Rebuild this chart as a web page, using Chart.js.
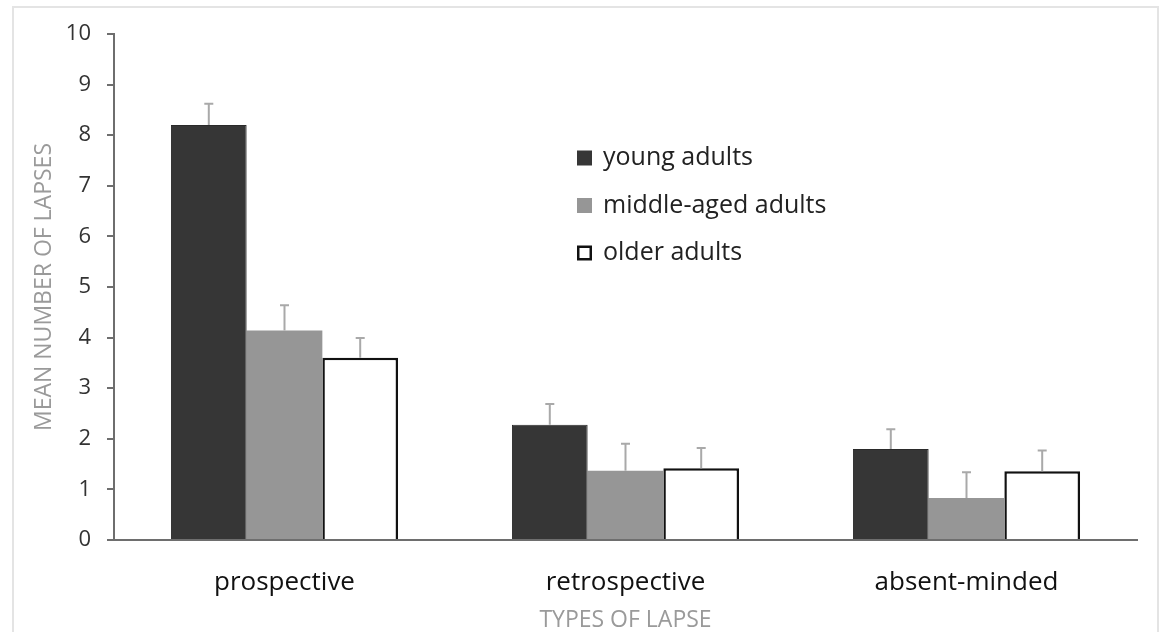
<!DOCTYPE html>
<html>
<head>
<meta charset="utf-8">
<script src="https://cdn.jsdelivr.net/npm/chart.js@4/dist/chart.umd.min.js"></script>
<style>
  html, body { margin: 0; padding: 0; background: #fff; }
  #wrap { position: relative; width: 1165px; height: 632px; }
  #frame { position: absolute; left: 12px; top: 6px; width: 1147px; height: 640px;
           border: 2px solid #e4e4e4; box-sizing: border-box; pointer-events: none; }
</style>
</head>
<body>
<div id="wrap">
  <canvas id="myChart" width="1165" height="632"></canvas>
  <div id="frame"></div>
</div>
<script>
// 카테고리와 값
const categories = ['prospective', 'retrospective', 'absent-minded'];
const seriesNames = ['young adults', 'middle-aged adults', 'older adults'];
const youngVals = [8.2, 2.28, 1.80];
const middleVals = [4.14, 1.37, 0.83];
const olderVals = [3.6, 1.42, 1.36];
// 오차막대 (위쪽만)
const youngErr = [0.42, 0.41, 0.39];
const middleErr = [0.50, 0.53, 0.51];
const olderErr = [0.39, 0.40, 0.41];
const yTicks = [0, 1, 2, 3, 4, 5, 6, 7, 8, 9, 10];

const FONT = "'Open Sans', sans-serif";

// 오차막대 그리기
const errorBars = {
  id: 'errorBars',
  afterDatasetsDraw(chart) {
    const ctx = chart.ctx;
    const yScale = chart.scales.y;
    chart.data.datasets.forEach(function(ds, i) {
      const meta = chart.getDatasetMeta(i);
      meta.data.forEach(function(bar, j) {
        const top = yScale.getPixelForValue(ds.data[j] + ds.errors[j]);
        ctx.save();
        ctx.strokeStyle = '#a9a9a9';
        ctx.lineWidth = 2;
        ctx.beginPath();
        ctx.moveTo(bar.x, bar.y);
        ctx.lineTo(bar.x, top);
        ctx.moveTo(bar.x - 4.5, top);
        ctx.lineTo(bar.x + 4.5, top);
        ctx.stroke();
        ctx.restore();
      });
    });
  }
};

// 범례 (차트 안쪽)
const innerLegend = {
  id: 'innerLegend',
  afterDraw(chart) {
    const ctx = chart.ctx;
    const x0 = 577, y0 = 158, gap = 47.5, box = 15;
    ctx.save();
    ctx.font = '25px ' + FONT;
    ctx.textBaseline = 'middle';
    chart.data.datasets.forEach(function(ds, i) {
      const cy = y0 + i * gap;
      ctx.fillStyle = ds.backgroundColor;
      ctx.fillRect(x0, cy - box / 2, box, box);
      if (ds.legendBorder) {
        ctx.strokeStyle = '#111';
        ctx.lineWidth = 2.5;
        ctx.strokeRect(x0 + 1.25, cy - box / 2 + 1.25, box - 2.5, box - 2.5);
      }
      ctx.fillStyle = '#222';
      ctx.fillText(ds.label, 603, cy);
    });
    ctx.restore();
  }
};

const data = {
  labels: categories,
  datasets: [
    { label: seriesNames[0], data: youngVals, errors: youngErr,
      backgroundColor: '#363636', borderColor: '#2a2a2a', borderWidth: 1 },
    { label: seriesNames[1], data: middleVals, errors: middleErr,
      backgroundColor: '#969696', borderColor: '#969696', borderWidth: 0 },
    { label: seriesNames[2], data: olderVals, errors: olderErr, legendBorder: true,
      backgroundColor: '#ffffff', borderColor: '#111111', borderWidth: 2.5 }
  ]
};

const config = {
  type: 'bar',
  data,
  options: {
    responsive: false,
    animation: false,
    layout: { padding: { left: 0, right: 28, top: 34, bottom: 0 } },
    datasets: { bar: { categoryPercentage: 0.666, barPercentage: 1.0 } },
    plugins: { legend: { display: false }, tooltip: { enabled: false } },
    scales: {
      x: {
        grid: { display: false, drawTicks: false },
        border: { display: true, color: '#6e6e6e', width: 2 },
        ticks: { color: '#111', font: { family: FONT, size: 26 }, padding: 27 },
        title: { display: true, text: 'TYPES OF LAPSE', color: '#9a9a9a',
                 font: { family: FONT, size: 23, lineHeight: 1 }, padding: { top: 0, bottom: 0 } },
        afterFit(scale) { scale.height = 92; }
      },
      y: {
        min: 0, max: 10,
        afterBuildTicks(scale) { scale.ticks = yTicks.map(v => ({ value: v })); },
        grid: { drawOnChartArea: false, tickLength: 7, color: '#6e6e6e', lineWidth: 2 },
        border: { display: true, color: '#6e6e6e', width: 2 },
        ticks: { color: '#333', font: { family: FONT, size: 22 }, padding: 16 },
        title: { display: true, text: 'MEAN NUMBER OF LAPSES', color: '#9a9a9a',
                 font: { family: FONT, size: 23, lineHeight: 1 }, padding: { top: 33, bottom: 0 } },
        afterFit(scale) { scale.width = 114; }
      }
    }
  },
  plugins: [errorBars, innerLegend]
};

const myChart = new Chart(document.getElementById('myChart'), config);
</script>
</body>
</html>
